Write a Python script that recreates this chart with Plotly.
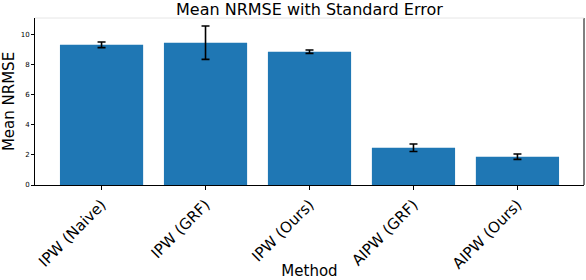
import plotly.graph_objects as go

methods = ["IPW (Naive)", "IPW (GRF)", "IPW (Ours)", "AIPW (GRF)", "AIPW (Ours)"]
means = [9.31, 9.45, 8.85, 2.47, 1.88]
errors = [0.19, 1.11, 0.11, 0.25, 0.18]
yticks = [0, 2, 4, 6, 8, 10]

x = list(range(len(methods)))
fig = go.Figure(go.Bar(
    x=x, y=means, width=0.8, marker_color="#1f77b4", marker_line_width=0,
    error_y=dict(type="data", array=errors, color="black", thickness=1.6, width=4),
))
fig.update_layout(
    width=586, height=280, margin=dict(l=35, r=2, t=18, b=95, autoexpand=False),
    paper_bgcolor="white", plot_bgcolor="white",
    font=dict(family="DejaVu Sans", color="black"),
    showlegend=False,
    title=dict(text="Mean NRMSE with Standard Error", x=0.528, xanchor="center",
               y=0.965, yanchor="middle", font=dict(size=16)),
)
fig.update_xaxes(
    automargin=False,
    range=[-0.64, 4.64], tickmode="array", tickvals=x, ticktext=methods,
    tickangle=-45, tickfont=dict(size=15), ticks="outside", ticklen=4,
    tickcolor="black", showline=True, linecolor="black", linewidth=1,
    showgrid=False, zeroline=False,
    title=dict(text="Method", font=dict(size=15), standoff=0),
)
fig.update_yaxes(
    automargin=False,
    range=[0, 11.09], tickmode="array", tickvals=yticks,
    tickfont=dict(size=7), ticks="outside", ticklen=3, tickcolor="black",
    showline=True, linecolor="black", linewidth=1, showgrid=False, zeroline=False,
    title=dict(text="Mean NRMSE", font=dict(size=15), standoff=6),
)
fig.add_shape(type="line", xref="paper", yref="paper", x0=1, x1=1, y0=0, y1=1,
              line=dict(color="black", width=1))
fig.add_shape(type="line", xref="paper", yref="paper", x0=0, x1=1, y0=1, y1=1,
              line=dict(color="#e6e6e6", width=1))

post = ("document.documentElement.style.margin='0';document.body.style.margin='0';"
        "document.body.style.padding='0';document.body.style.overflow='hidden';"
        "document.documentElement.style.overflow='hidden';"
        "Plotly.Plots.resize(document.getElementById('{plot_id}'));")
fig.write_html("out.html", post_script=post, config={"displayModeBar": False})
